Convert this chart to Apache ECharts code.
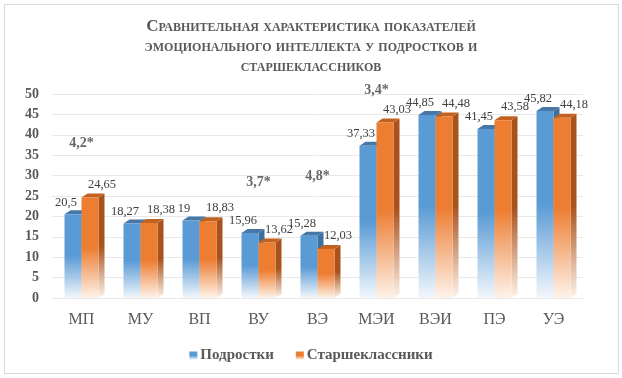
<!DOCTYPE html>
<html>
<head>
<meta charset="utf-8">
<script src="https://cdn.jsdelivr.net/npm/echarts@6/dist/echarts.min.js"></script>
<style>
  html, body { margin: 0; padding: 0; background: #fff; }
  #chart { width: 622px; height: 378px; }
  #frame { position: absolute; left: 4px; top: 4px; width: 613px; height: 368px; border: 1px solid #d9d9d9; pointer-events: none; }
</style>
</head>
<body>
<div id="chart"></div>
<div id="frame"></div>
<script>
// данные
const categories = ["МП", "МУ", "ВП", "ВУ", "ВЭ", "МЭИ", "ВЭИ", "ПЭ", "УЭ"];
const teens = [20.5, 18.27, 19, 15.96, 15.28, 37.33, 44.85, 41.45, 45.82];
const seniors = [24.65, 18.38, 18.83, 13.62, 12.03, 43.03, 44.48, 43.58, 44.18];
const noteCategories = ["МП", "ВУ", "ВЭ", "МЭИ"];
const noteTexts = ["4,2*", "3,7*", "4,8*", "3,4*"];
const noteLevels = [38, 28.4, 29.7, 51];

const SERIF = "'Liberation Serif', 'DejaVu Serif', serif";
const BAR_W = 17; // ширина передней грани
const DX = 6, DY = 4; // глубина "3D"

function fade(c, light) {
  return new echarts.graphic.LinearGradient(0, 0, 0, 1, [
    { offset: 0, color: c },
    { offset: 0.5, color: c },
    { offset: 1, color: light }
  ]);
}

function fmt(v) {
  return String(v).replace(".", ",");
}

// рисуем столбик с боковой и верхней гранью
function block(shift, face, side, topc, light, ldx, ldy) {
  return function (params, api) {
    const i = api.value(0), v = api.value(1);
    const p0 = api.coord([i, 0]);
    const p1 = api.coord([i, v]);
    const x0 = p0[0] + shift, x1 = x0 + BAR_W, yb = p0[1], yt = p1[1];
    return {
      type: "group",
      children: [
        {
          type: "polygon",
          shape: { points: [[x1, yt], [x1 + DX, yt - DY], [x1 + DX, yb - DY], [x1, yb]] },
          style: { fill: fade(side, light) }
        },
        {
          type: "polygon",
          shape: { points: [[x0, yt], [x0 + DX, yt - DY], [x1 + DX, yt - DY], [x1, yt]] },
          style: { fill: topc }
        },
        {
          type: "rect",
          shape: { x: x0, y: yt, width: BAR_W, height: yb - yt },
          style: { fill: fade(face, light) }
        },
        {
          type: "text",
          x: x0 + BAR_W / 2 + ldx,
          y: yt - ldy,
          style: {
            text: fmt(v),
            align: "center",
            verticalAlign: "middle",
            fontSize: 12.5,
            fontFamily: SERIF,
            fill: "#404040"
          }
        }
      ]
    };
  };
}

const chart = echarts.init(document.getElementById("chart"));

const option = {
  animation: false,
  title: {
    text: "Сравнительная характеристика показателей\nэмоционального интеллекта у подростков и\nстаршеклассников",
    left: "center",
    top: 12,
    textStyle: {
      fontStyle: "small-caps",
      fontWeight: "bold",
      fontSize: 17,
      fontFamily: SERIF,
      color: "#595959",
      lineHeight: 20
    }
  },
  legend: {
    top: 343,
    left: "center",
    itemWidth: 8,
    itemHeight: 8,
    itemGap: 22,
    data: [
      { name: "Подростки", icon: "rect", itemStyle: { color: fade("#5b9bd5", "#eaf2fa") } },
      { name: "Старшеклассники", icon: "rect", itemStyle: { color: fade("#ed7d31", "#fdeee2") } }
    ],
    textStyle: { fontSize: 15, fontWeight: "bold", fontFamily: SERIF, color: "#595959", padding: [0, 0, 0, -2] }
  },
  grid: { left: 52, right: 39, top: 94, bottom: 80 },
  xAxis: {
    type: "category",
    data: categories,
    axisLine: { show: false },
    axisTick: { show: false },
    axisLabel: { margin: 14, fontSize: 16, fontFamily: SERIF, color: "#595959" }
  },
  yAxis: {
    type: "value",
    min: 0,
    max: 50,
    interval: 5,
    axisLabel: { margin: 13, fontSize: 14, fontWeight: "bold", fontFamily: SERIF, color: "#595959" },
    splitLine: { lineStyle: { color: "#e8e8e8" } }
  },
  series: [
    {
      name: "Подростки",
      type: "custom",
      itemStyle: { color: "#5b9bd5" },
      encode: { x: 0, y: 1 },
      data: teens.map((v, i) => [i, v]),
      renderItem: block(-BAR_W, "#5b9bd5", "#3d6f9f", "#4677a6", "#f2f7fc", -7, 12)
    },
    {
      name: "Старшеклассники",
      type: "custom",
      itemStyle: { color: "#ed7d31" },
      encode: { x: 0, y: 1 },
      data: seniors.map((v, i) => [i, v]),
      renderItem: block(0, "#ed7d31", "#a9521b", "#c2621f", "#fef3ea", 12, 13)
    },
    {
      name: "notes",
      type: "scatter",
      silent: true,
      clip: false,
      symbolSize: 1,
      itemStyle: { color: "rgba(0,0,0,0)" },
      data: noteCategories.map((c, i) => [c, noteLevels[i]]),
      label: {
        show: true,
        position: "inside",
        formatter: (p) => noteTexts[p.dataIndex],
        fontSize: 14,
        fontWeight: "bold",
        fontFamily: SERIF,
        color: "#404040"
      }
    }
  ]
};

chart.setOption(option);
</script>
</body>
</html>
